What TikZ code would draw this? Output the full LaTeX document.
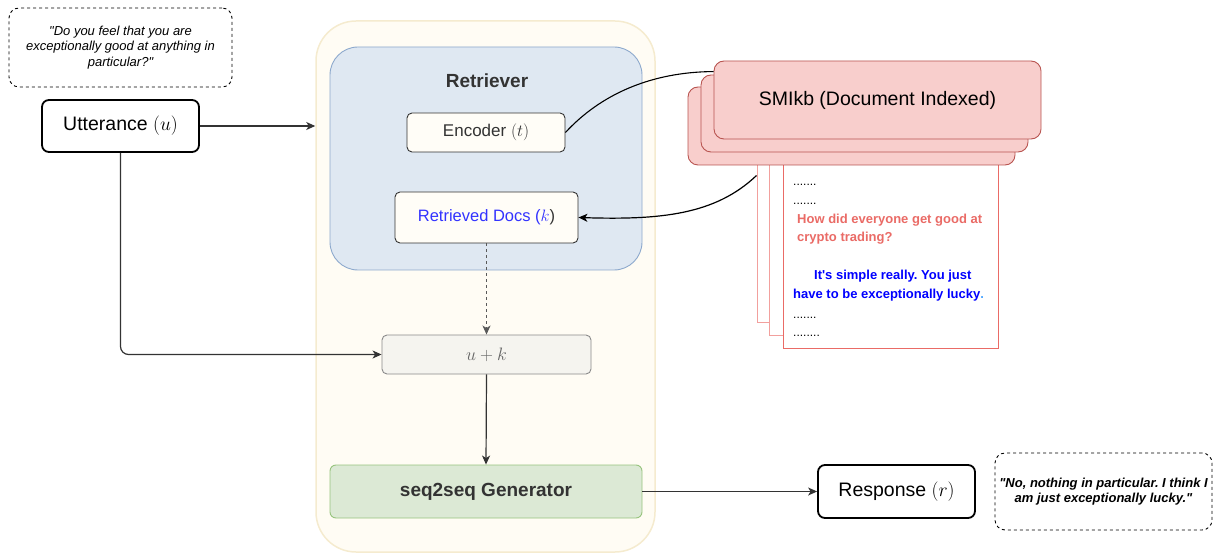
\RequirePackage{fix-cm}
\documentclass[tikz,border=0pt]{standalone}
\usepackage{fontspec}
\setmainfont{Liberation Sans}[Ligatures=TeXOff]
\usetikzlibrary{arrows.meta,calc}
\definecolor{contfill}{HTML}{FFFCF4}
\definecolor{contdraw}{HTML}{F5EBCF}
\definecolor{retfill}{HTML}{DFE8F2}
\definecolor{retdraw}{HTML}{8DA9CD}
\definecolor{boxfill}{HTML}{FFFDF7}
\definecolor{ukfill}{HTML}{F5F4EF}
\definecolor{ukdraw}{HTML}{8A8A8A}
\definecolor{genfill}{HTML}{DCE9D5}
\definecolor{gendraw}{HTML}{97C47E}
\definecolor{kbfill}{HTML}{F8CECC}
\definecolor{kbdraw}{HTML}{B85450}
\definecolor{pagedraw}{HTML}{EA6B66}
\definecolor{pagedrawb}{HTML}{F2A09D}
\definecolor{qred}{HTML}{EA6B66}
\definecolor{docblue}{HTML}{3333FF}
\definecolor{dotblue}{HTML}{4DA6FF}
\definecolor{dark}{HTML}{333333}
\begin{document}
\frenchspacing
\begin{tikzpicture}[x=1pt,y=-1pt,
  quote/.style={draw=black,dashed,line width=0.9pt,rounded corners=10pt,align=center,inner sep=0pt},
  mainbox/.style={draw=black,line width=1.8pt,rounded corners=7pt,fill=white,inner sep=0pt,font=\fontsize{19.5}{23}\selectfont},
  innerbox/.style={draw=dark,line width=0.9pt,rounded corners=5pt,fill=boxfill,inner sep=0pt},
  kbbox/.style={draw=kbdraw,line width=0.9pt,fill=kbfill,rounded corners=10pt,minimum width=327pt,inner sep=0pt},
  pagebox/.style={draw=#1,line width=1pt,fill=white,inner sep=0pt},
  conn/.style={draw=dark,line width=1.2pt,-{Stealth[length=9pt,width=8pt,inset=2.5pt]}},
  doctext/.style={anchor=west,inner sep=0pt,font=\fontsize{13}{15}\selectfont\bfseries},
  dots/.style={anchor=base west,inner sep=0pt,font=\fontsize{12}{14}\selectfont}
]
\useasboundingbox (0,0) rectangle (1215,553);

% container
\node[draw=contdraw,fill=contfill,line width=1.5pt,rounded corners=40pt,minimum width=339pt,minimum height=531pt,inner sep=0pt] (cont) at (485.5,286.5) {};
\node[draw=retdraw,fill=retfill,line width=0.9pt,rounded corners=28pt,minimum width=312pt,minimum height=223pt,inner sep=0pt] (retr) at (486,158.5) {};
\node[text=dark,font=\fontsize{19}{22}\selectfont\bfseries] (rlab) at (487,81) {Retriever};
\node[innerbox,minimum width=158pt,minimum height=39pt,text=dark,font=\fontsize{17}{20}\selectfont] (enc) at (486,132.5) {Encoder $(t)$};
\node[innerbox,minimum width=183pt,minimum height=51pt,text=docblue,font=\fontsize{16.5}{20}\selectfont] (docs) at (486.5,217.5) {Retrieved Docs ($k$\textcolor{dark}{)}};
\node[draw=ukdraw,fill=ukfill,line width=0.9pt,rounded corners=5pt,minimum width=209pt,minimum height=39pt,inner sep=0pt,text=black!60,font=\fontsize{18}{22}\selectfont] (uk) at (486.5,354.5) {$u+k$};
\node[draw=gendraw,fill=genfill,line width=0.9pt,rounded corners=6pt,minimum width=312pt,minimum height=53pt,inner sep=0pt,text=dark,font=\fontsize{19}{22}\selectfont\bfseries] (gen) at (486,491.5) {seq2seq Generator};

% left side
\node[quote,minimum width=223pt,minimum height=79pt,font=\fontsize{13}{15.5}\selectfont\itshape] (q1) at (120.5,47.5) {"Do you feel that you are\\exceptionally good at anything in\\particular?"};
\node[mainbox,minimum width=157pt,minimum height=52pt] (utt) at (120.5,126) {Utterance $(u)$};

% right side
\node[mainbox,minimum width=157pt,minimum height=53pt] (resp) at (896.5,491.5) {Response $(r)$};
\node[quote,minimum width=217pt,minimum height=77pt,font=\fontsize{13}{15}\selectfont\bfseries\itshape] (q2) at (1103.5,491.5) {"No, nothing in particular. I think I\\am just exceptionally lucky."};

% pages
\node[pagebox=pagedrawb,minimum width=216pt,minimum height=182pt] (p3) at (865,231) {};
\node[pagebox=pagedrawb,minimum width=216pt,minimum height=195pt] (p2) at (877,237.5) {};
\node[pagebox=pagedraw,minimum width=215pt,minimum height=208pt] (p1) at (890.5,244) {};

% knowledge base stack
\node[kbbox,minimum height=78pt] (kb3) at (851.5,126) {};
\node[kbbox,minimum height=77pt] (kb2) at (864.5,113.5) {};
\node[kbbox,minimum height=78pt,font=\fontsize{19.5}{23}\selectfont] (kb1) at (877.5,100) {SMIkb (Document Indexed)};

% page text
\node[dots] (d1) at (793,186) {.......};
\node[dots] (d2) at (793,205) {.......};
\node[doctext,text=qred] (t1) at (797,220) {How did everyone get good at};
\node[doctext,text=qred] (t2) at (797,238.5) {crypto trading?};
\node[doctext,text=blue] (t3) at (814,276) {It's simple really. You just};
\node[doctext,text=blue] (t4) at (793,295) {have to be exceptionally lucky\textcolor{dotblue}{.}};
\node[dots] (d3) at (793,318) {.......};
\node[dots] (d4) at (793,336) {........};

% connectors
\coordinate (kbin) at ($(kb1.north west)+(0,11)$);
\coordinate (p3out) at ($(p3.north west)+(0,36)$);
\draw[draw=black,line width=1.1pt] (enc.east) .. controls (600,95) and (650,72) .. (kbin);
\draw[conn,draw=black] (p3out) .. controls (715,215) and (660,220) .. (docs.east);
\draw[conn] (utt.east) -- (utt.east -| cont.west);
\draw[conn,rounded corners=8pt] (utt.south) |- (uk.west);
\draw[conn,dashed,draw=black!65] (docs.south) -- (uk.north);
\draw[conn] (uk.south) -- (gen.north);
\draw[conn] (gen.east) -- (resp.west);
\end{tikzpicture}
\end{document}
